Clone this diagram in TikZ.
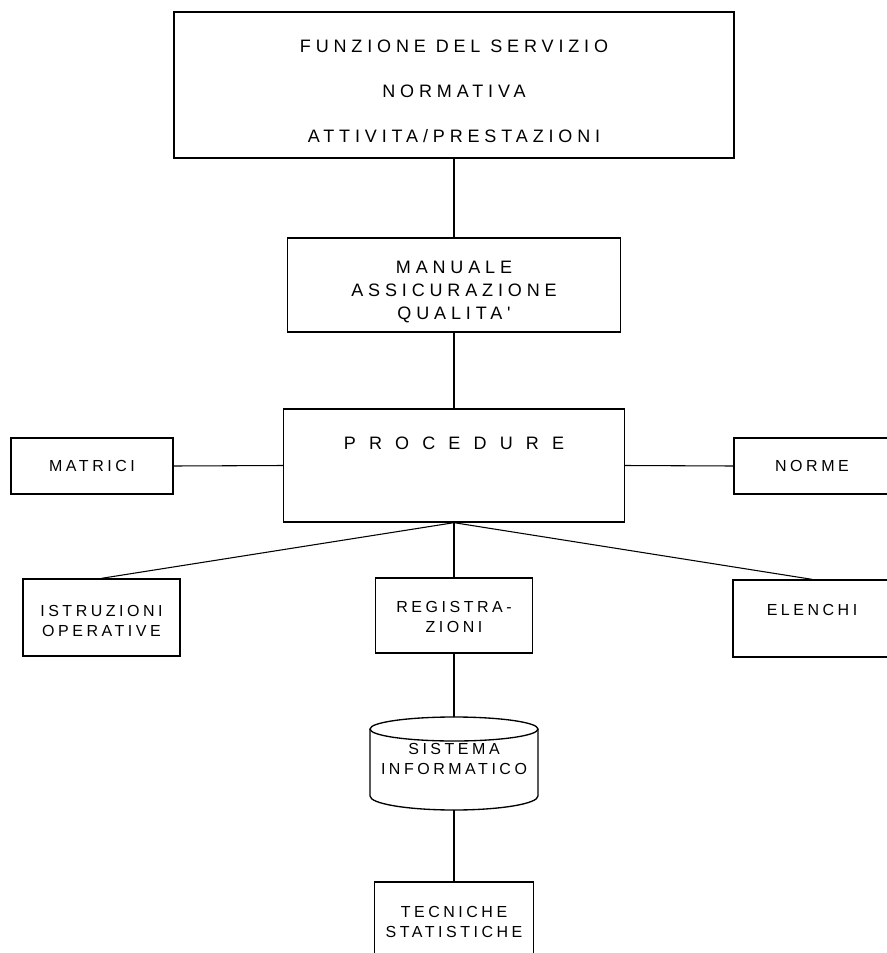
\documentclass[tikz,border=0pt]{standalone}
\usepackage{fontspec}
\setmainfont{Liberation Sans}
\newfontfamily\wideface[LetterSpace=27]{Liberation Sans}
\newfontfamily\procface[LetterSpace=73]{Liberation Sans}
\newfontfamily\smallface[LetterSpace=22]{Liberation Sans}

\begin{document}
\begin{tikzpicture}[x=0.75pt,y=-0.75pt,
  box/.style={draw,line width=1pt,inner sep=0pt},
  sz/.style 2 args={minimum width=#1*0.75pt,minimum height=#2*0.75pt},
  link/.style={line width=0.8pt},
  bigtxt/.style={font={\wideface\fontsize{13.5pt}{33.75pt}\selectfont},align=center},
  midtxt/.style={font={\wideface\fontsize{13.5pt}{17.25pt}\selectfont},align=center},
  proctxt/.style={font={\procface\fontsize{13.5pt}{16pt}\selectfont}},
  smalltxt/.style={font={\smallface\fontsize{12pt}{15pt}\selectfont},align=center}]

  \useasboundingbox (0,0) rectangle (887,953);
  \clip (0,0) rectangle (887,953);

  % main column
  \node[box,sz={560}{146},label={[bigtxt,name=funzt,yshift=-5pt]center:{FUNZIONE DEL SERVIZIO\\NORMATIVA\\ATTIVITA/PRESTAZIONI}}] (funz) at (454,85) {};
  \node[box,sz={333}{94},label={[midtxt,name=mant,yshift=-5.25pt]center:{MANUALE\\ASSICURAZIONE\\QUALITA'}}] (man) at (454,285) {};
  \node[box,sz={341}{113},label={[proctxt,name=proct,yshift=16.5pt]center:PROCEDURE}] (proc) at (454,465.5) {};

  % side boxes
  \node[box,sz={162}{56},label={[smalltxt,name=matrt]center:MATRICI}] (matr) at (92,466) {};
  \node[box,sz={156}{56},label={[smalltxt,name=normt]center:NORME}] (norm) at (812,466) {};

  % second row
  \node[box,sz={157}{77},label={[smalltxt,name=istrt,yshift=-2.25pt]center:{ISTRUZIONI\\OPERATIVE}}] (istr) at (101.5,617.5) {};
  \node[box,sz={157}{75},label={[smalltxt,name=regt,yshift=-1.1pt]center:{REGISTRA-\\ZIONI}}] (reg) at (454,615.5) {};
  \node[box,sz={158}{77},label={[smalltxt,name=elent,yshift=6.4pt]center:ELENCHI}] (elen) at (812,618.5) {};

  % database and bottom box
  \node[inner sep=0pt,sz={168}{93},label={[smalltxt,name=sist,yshift=3.75pt]center:{SISTEMA\\INFORMATICO}}] (sis) at (454,763.5) {};
  \node[box,sz={159}{80},label={[smalltxt,name=tect]center:{TECNICHE\\STATISTICHE}}] (tec) at (454,922) {};

  % Draw cylinder
  \draw[line width=1pt] (454,729) ellipse [x radius=84, y radius=12];
  \draw[line width=1pt] (370,729) -- (370,796) arc [start angle=180, end angle=0, x radius=84, y radius=14] -- (538,729);

  % Draw links
  \draw[link] (funz.south) -- (man.north);
  \draw[link] (man.south) -- (proc.north);
  \draw[link] (matr.east) -- (proc.west);
  \draw[link] (proc.east) -- (norm.west);
  \draw[link] (proc.south) -- (istr.north);
  \draw[link] (proc.south) -- (reg.north);
  \draw[link] (proc.south) -- (elen.north);
  \draw[link] (reg.south) -- (sis.north);
  \draw[link] (sis.south) -- (tec.north);

\end{tikzpicture}
\end{document}
